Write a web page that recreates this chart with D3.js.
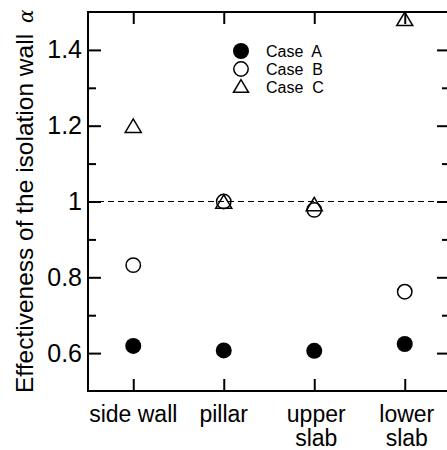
<!DOCTYPE html>
<html lang="en">
<head>
<meta charset="utf-8">
<title>Effectiveness of the isolation wall</title>
<script src="https://cdn.jsdelivr.net/npm/d3@7/dist/d3.min.js"></script>
<style>
  body { margin: 0; background: #fff; }
  svg text { font-family: "Liberation Sans", Arial, Helvetica, sans-serif; fill: #000; }
</style>
</head>
<body>
<svg id="chart" width="447" height="450"></svg>
<script>
// data
var categories = ['side wall', 'pillar', 'upper slab', 'lower slab'];
var caseA = [0.619, 0.607, 0.606, 0.624];
var caseB = [0.832, 1.0, 0.978, 0.762];
var caseC = [1.2, 1.0, 0.993, 1.482];
var majorTicks = [0.6, 0.8, 1.0, 1.2, 1.4];
var minorTicks = [0.7, 0.9, 1.1, 1.3];

var svg = d3.select('#chart');
var plotLeft = 88, plotRight = 450, plotTop = 12, plotBottom = 391;

var x = d3.scalePoint().domain(categories).range([plotLeft, plotRight]).padding(0.5);
var y = d3.scaleLinear().domain([0.5, 1.5]).range([plotBottom, plotTop]);

var g = svg.append('g');

// reference line at 1
g.append('line')
    .attr('x1', plotLeft).attr('x2', plotRight)
    .attr('y1', y(1)).attr('y2', y(1))
    .attr('stroke', '#000').attr('stroke-width', 1)
    .attr('stroke-dasharray', '6,4');

// frame
g.append('rect')
    .attr('x', plotLeft).attr('y', plotTop)
    .attr('width', plotRight - plotLeft).attr('height', plotBottom - plotTop)
    .attr('fill', 'none').attr('stroke', '#000').attr('stroke-width', 2);

function thick(a) {
    a.select('.domain').remove();
    a.selectAll('line').attr('stroke-width', 2);
}

// y axis, ticks pointing inward
var yAxis = d3.axisLeft(y).tickValues(majorTicks).tickSize(-13).tickPadding(6)
    .tickFormat(function(d) { return d == 1 ? '1' : d3.format('.1f')(d); });
g.append('g').attr('transform', 'translate(' + plotLeft + ',0)').call(yAxis)
    .call(function(a) {
        thick(a);
        a.selectAll('text').attr('font-size', 25).attr('font-family', '"Liberation Sans", Arial, sans-serif');
    });
g.append('g').attr('transform', 'translate(' + plotLeft + ',0)')
    .call(d3.axisLeft(y).tickValues(minorTicks).tickSize(-8).tickFormat(''))
    .call(thick);
g.append('g').attr('transform', 'translate(' + plotRight + ',0)')
    .call(d3.axisRight(y).tickValues(majorTicks).tickSize(-13).tickFormat(''))
    .call(thick);
g.append('g').attr('transform', 'translate(' + plotRight + ',0)')
    .call(d3.axisRight(y).tickValues(minorTicks).tickSize(-8).tickFormat(''))
    .call(thick);

// x axis
g.append('g').attr('transform', 'translate(0,' + plotBottom + ')')
    .call(d3.axisBottom(x).tickSize(-12).tickFormat(''))
    .call(thick);
g.append('g').attr('transform', 'translate(0,' + plotTop + ')')
    .call(d3.axisTop(x).tickSize(-12).tickFormat(''))
    .call(thick);

// category labels (two lines for the slabs)
categories.forEach(function(c) {
    var words = c.indexOf('slab') >= 0 ? c.split(' ') : [c];
    words.forEach(function(w, i) {
        g.append('text')
            .attr('text-anchor', 'middle')
            .attr('font-size', 23)
            .attr('x', x(c) + (words.length > 1 ? 2 : 0))
            .attr('y', 422 + i * 24)
            .text(w);
    });
});

// y label
var yl = svg.append('text')
    .attr('transform', 'translate(33,393) rotate(-90)')
    .attr('font-size', 24.5);
yl.append('tspan').text('Effectiveness of the isolation wall');
yl.append('tspan').attr('dx', 11).attr('font-family', '"DejaVu Serif", serif')
    .attr('font-style', 'italic').attr('font-size', 20).text('\u03b1');

// markers
function tri(s) {
    return 'M0,' + (-s * 0.84) + 'L' + (-s) + ',' + (s * 0.84) + 'L' + s + ',' + (s * 0.84) + 'Z';
}

g.selectAll('.ca').data(caseA).enter().append('circle')
    .attr('cx', function(d, i) { return x(categories[i]); })
    .attr('cy', function(d) { return y(d); })
    .attr('r', 8).attr('fill', '#000');

g.selectAll('.cb').data(caseB).enter().append('circle')
    .attr('cx', function(d, i) { return x(categories[i]); })
    .attr('cy', function(d) { return y(d); })
    .attr('r', 7.2).attr('fill', 'none').attr('stroke', '#000').attr('stroke-width', 1.5);

g.selectAll('.cc').data(caseC).enter().append('path')
    .attr('d', tri(8))
    .attr('transform', function(d, i) { return 'translate(' + x(categories[i]) + ',' + y(d) + ')'; })
    .attr('fill', 'none').attr('stroke', '#000').attr('stroke-width', 1.5);

// legend
var legendNames = ['Case  A', 'Case  B', 'Case  C'];
legendNames.forEach(function(name, i) {
    var ly = 51 + i * 18;
    if (i == 0) {
        svg.append('circle').attr('cx', 241).attr('cy', ly).attr('r', 8).attr('fill', '#000');
    } else if (i == 1) {
        svg.append('circle').attr('cx', 241).attr('cy', ly).attr('r', 7.2)
            .attr('fill', 'none').attr('stroke', '#000').attr('stroke-width', 1.5);
    } else {
        svg.append('path').attr('d', tri(7.5)).attr('transform', 'translate(241,' + (ly - 1) + ')')
            .attr('fill', 'none').attr('stroke', '#000').attr('stroke-width', 1.5);
    }
    svg.append('text')
        .attr('x', 266).attr('y', ly + 6)
        .attr('font-size', 16)
        .style('white-space', 'pre')
        .text(name);
});
</script>
</body>
</html>
